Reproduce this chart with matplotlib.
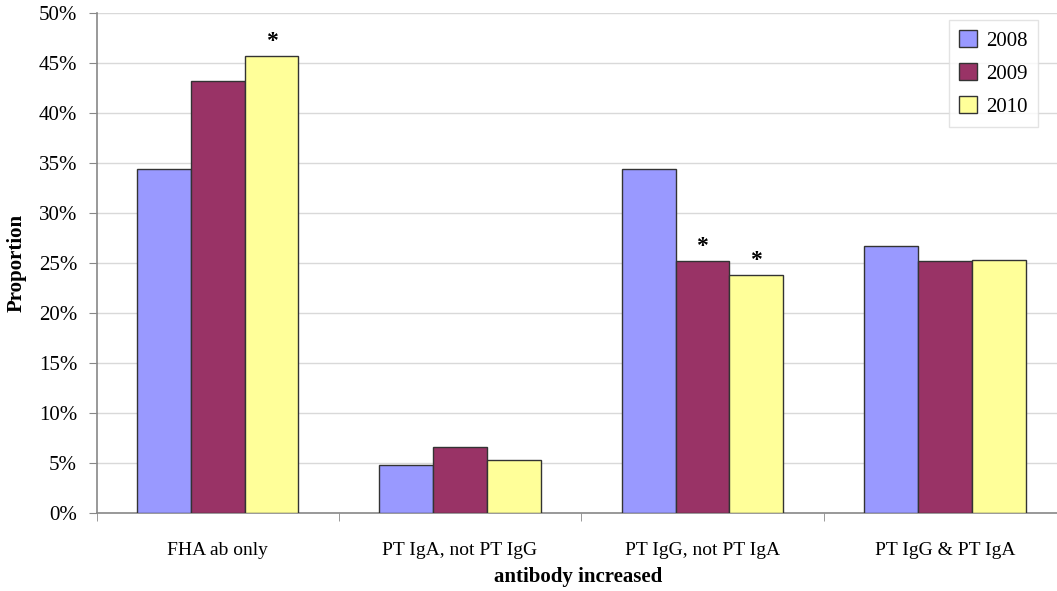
import numpy as np
import matplotlib.pyplot as plt
from matplotlib.ticker import FixedLocator

plt.rcParams['font.family'] = ['Liberation Serif', 'DejaVu Serif']

categories = ['FHA ab only', 'PT IgA, not PT IgG', 'PT IgG, not PT IgA', 'PT IgG & PT IgA']
years = ['2008', '2009', '2010']
v2008 = [34.4, 4.8, 34.4, 26.7]
v2009 = [43.2, 6.6, 25.2, 25.2]
v2010 = [45.7, 5.3, 23.8, 25.3]
colors = ['#9999FF', '#993366', '#FFFF99']
# (category index, series index) marked with *
stars = [(0, 2), (2, 1), (2, 2)]

fig = plt.figure(figsize=(10.57, 5.91), dpi=100)
ax = fig.add_axes([96.5 / 1057, 78 / 591, 969.5 / 1057, 500 / 591])

x = np.arange(len(categories))
w = 1 / 4.5
series = [v2008, v2009, v2010]
for i, (vals, c, yr) in enumerate(zip(series, colors, years)):
    ax.bar(x + (i - 1) * w, vals, w, color=c, edgecolor='#333333', linewidth=1.0,
           label=yr, zorder=3)

for ci, si in stars:
    ax.annotate('*', (x[ci] + (si - 1) * w, series[si][ci]), xytext=(0, 3),
                textcoords='offset points', ha='center', va='bottom',
                fontsize=17, fontweight='bold')

ax.set_xlim(-0.5, len(categories) - 0.5)
ax.set_ylim(0, 50)
ax.set_yticks(np.arange(0, 51, 5))
ax.set_yticklabels(['%d%%' % v for v in range(0, 51, 5)], fontsize=15)
ax.set_xticks(x)
ax.set_xticklabels(categories, fontsize=14)
ax.tick_params(axis='x', which='major', length=0, pad=21)
ax.xaxis.set_minor_locator(FixedLocator(np.arange(-0.5, len(categories), 1.0)))
ax.tick_params(axis='x', which='minor', length=6, color='#888888', direction='out')
ax.tick_params(axis='y', length=6, color='#888888', pad=8)

ax.grid(axis='y', color='#d9d9d9', linewidth=1, zorder=0)
for s in ['top', 'right']:
    ax.spines[s].set_visible(False)
for s in ['left', 'bottom']:
    ax.spines[s].set_color('#888888')
    ax.spines[s].set_linewidth(1.2)

ax.set_ylabel('Proportion', fontsize=15, fontweight='bold')
ax.yaxis.set_label_coords(-(96.5 - 27) / 969.5, 0.5)
ax.set_xlabel('antibody increased', fontsize=15, fontweight='bold')
ax.xaxis.set_label_coords((578 - 96.5) / 969.5, -(567 - 513) / 500)

leg = ax.legend(loc='upper right', bbox_to_anchor=(1038 / 1057, 571 / 591),
                bbox_transform=fig.transFigure, fontsize=15, frameon=True,
                fancybox=False, edgecolor='#dddddd', handlelength=0.85,
                handleheight=0.85, handletextpad=0.45, labelspacing=0.6,
                borderpad=0.5, borderaxespad=0)
leg.get_frame().set_linewidth(1.0)

fig.savefig('out.png', dpi=100)
